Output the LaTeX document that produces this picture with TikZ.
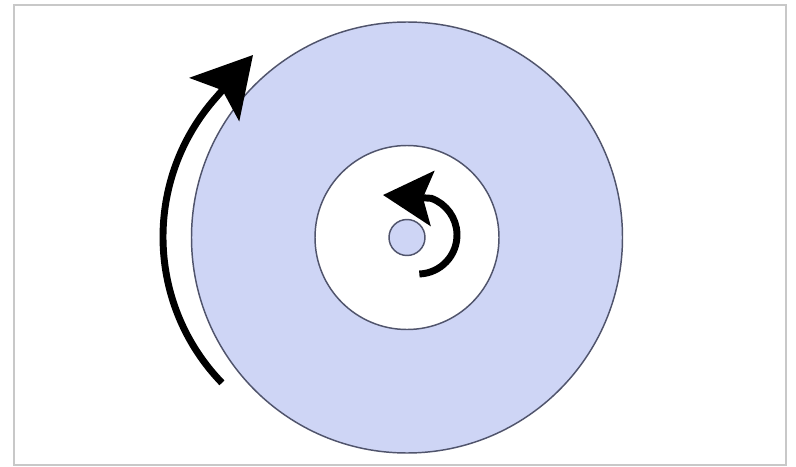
\documentclass[tikz,border=0pt]{standalone}
\usetikzlibrary{arrows.meta}
\definecolor{discfill}{RGB}{206,213,245}
\definecolor{rim}{RGB}{80,84,108}
\definecolor{framegray}{RGB}{200,200,200}
\begin{document}
\begin{tikzpicture}[x=0.75pt,y=-0.75pt,
  disc/.style={draw=rim,line width=1.1pt,fill=discfill},
  hole/.style={draw=rim,line width=1.1pt,fill=white},
  turn/.style={line width=5.2pt,black},
  bigtip/.style={-{Stealth[length=44pt,width=49pt,inset=9pt]}},
  smalltip/.style={-{Stealth[length=37pt,width=41pt,inset=7pt]}}]
\useasboundingbox (0,0) rectangle (796,467);
\fill[white] (0,0) rectangle (796,467);
\draw[framegray,line width=1.4pt] (14,5) rectangle (786,465);
\coordinate (c) at (407,237.5);
\coordinate (bc) at (373,237);
\coordinate (sc) at (418,235);
\coordinate (btip) at (253,55);
\coordinate (stip) at (383,195);
\filldraw[disc] (c) circle[radius=215.5];
\filldraw[hole] (c) circle[radius=92];
\filldraw[disc] (c) circle[radius=18];
\draw[turn,bigtip] ([shift={(136:210)}]bc) arc[start angle=136,end angle=220,radius=210] -- (btip);
\draw[turn,smalltip] ([shift={(88:39)}]sc) arc[start angle=88,end angle=-70,radius=39] -- (stip);
\end{tikzpicture}
\end{document}
